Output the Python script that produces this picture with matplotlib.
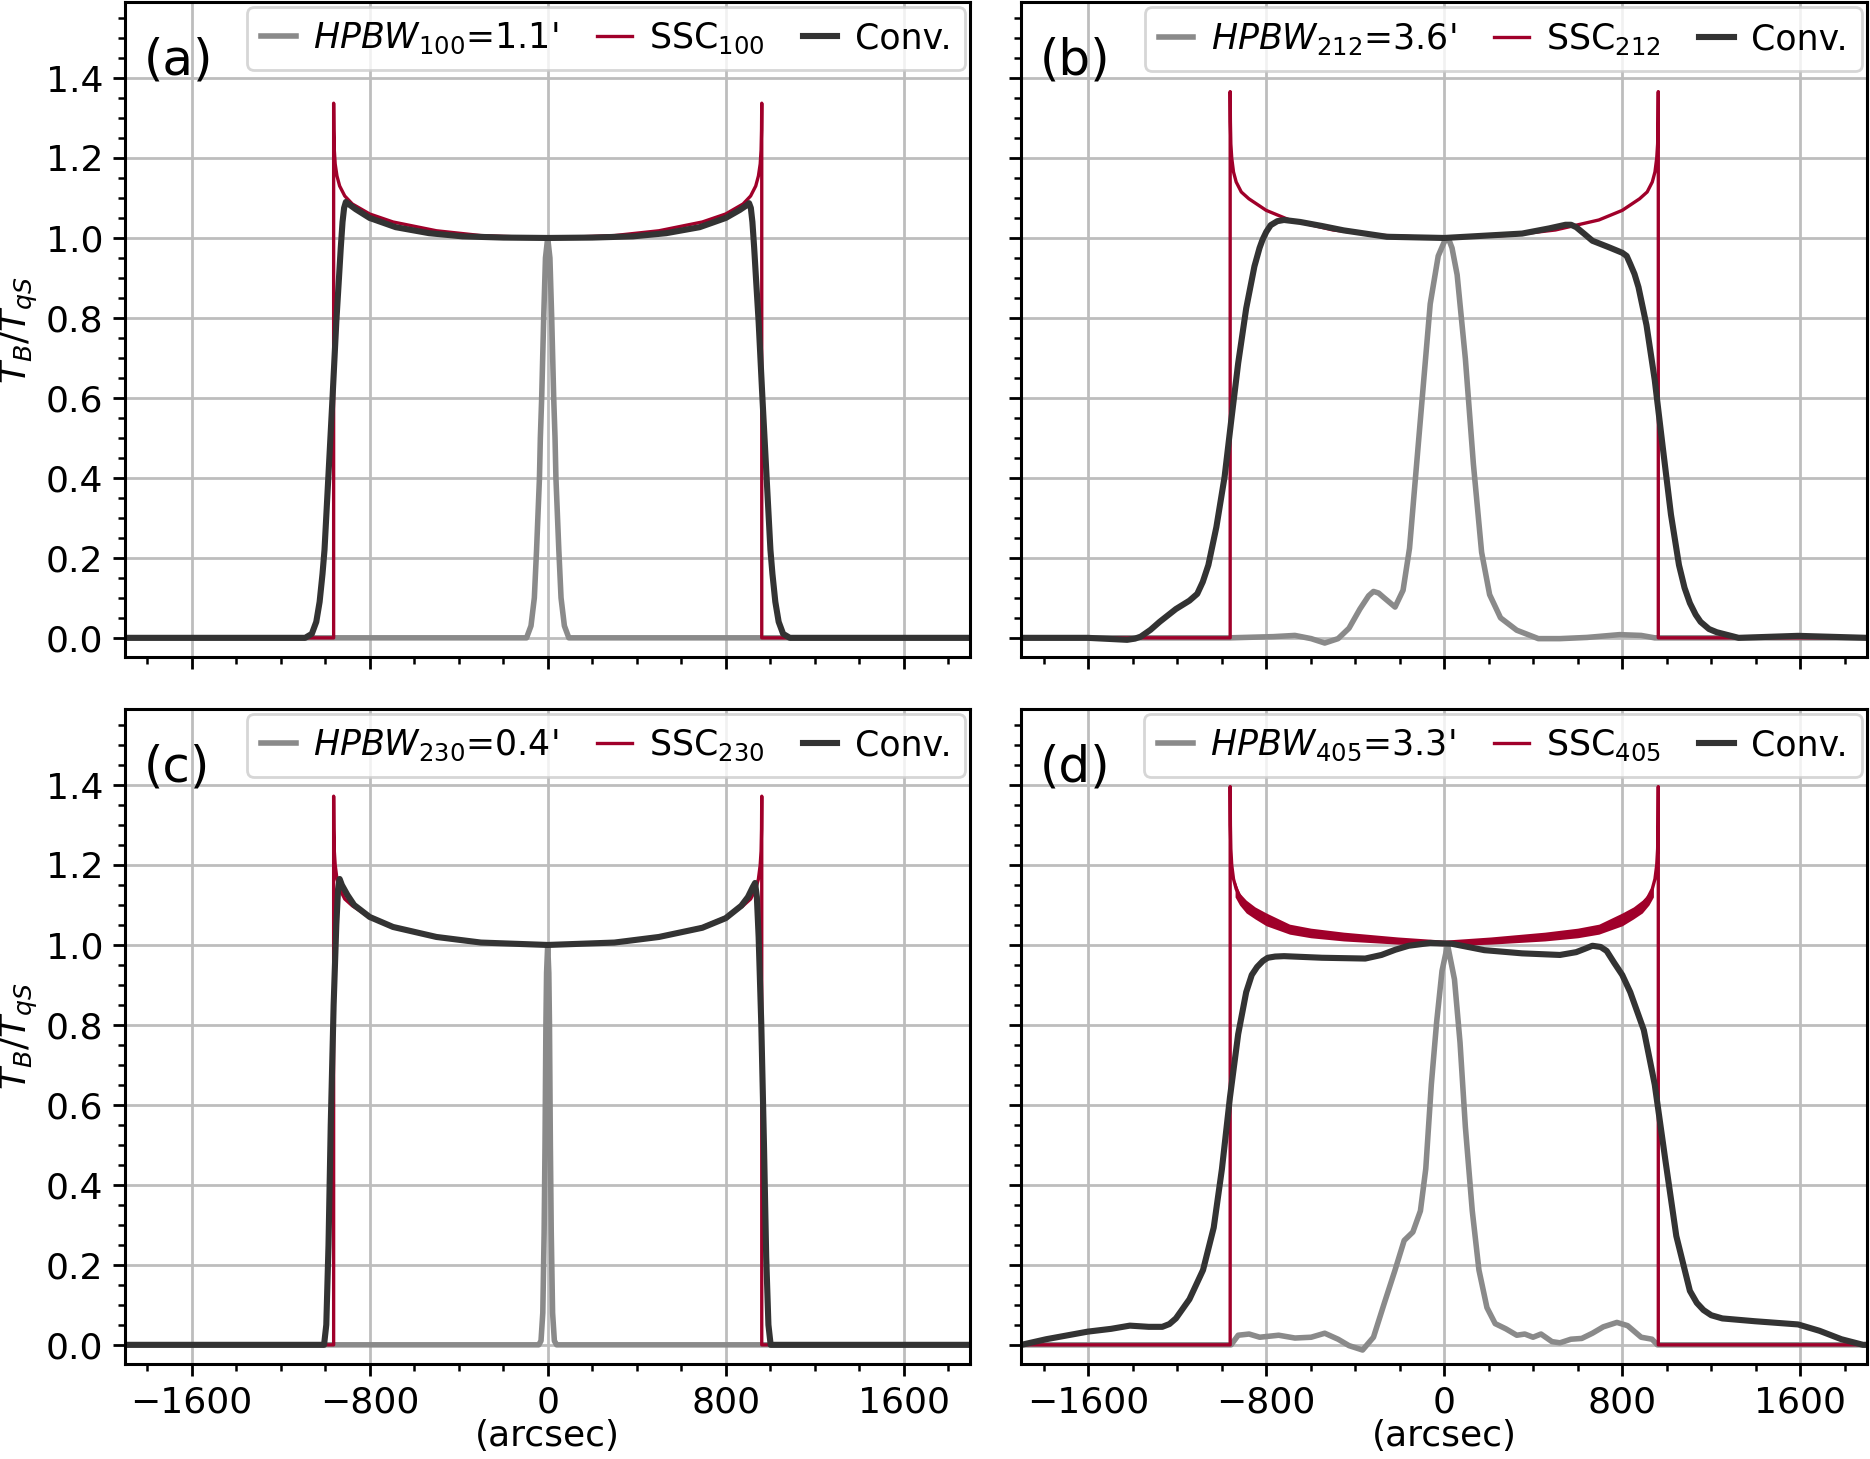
import matplotlib.pyplot as plt
from matplotlib.ticker import MultipleLocator

# Values.
# x in arcsec, y in T_B / T_qS

tags = ['(a)', '(b)', '(c)', '(d)']
freqs = ['100', '212', '230', '405']
hpbw = ["1.1'", "3.6'", "0.4'", "3.3'"]

# Solar disk profiles (SSC), sampled on a shared x grid
ssc_x = [-1900, -962, -962, -961, -959, -955, -947, -935, -912, -878, -800, -695, -500, -300, 0,
         300, 500, 695, 800, 878, 912, 935, 947, 955, 959, 961, 962, 962, 1900]
ssc_a = [0, 0, 1.337, 1.27, 1.22, 1.185, 1.155, 1.13, 1.105, 1.085, 1.06, 1.04, 1.018, 1.006, 1.0,
         1.006, 1.018, 1.04, 1.06, 1.085, 1.105, 1.13, 1.155, 1.185, 1.22, 1.27, 1.337, 0, 0]
ssc_b = [0, 0, 1.366, 1.29, 1.235, 1.2, 1.165, 1.14, 1.115, 1.098, 1.069, 1.045, 1.02, 1.007, 1.0,
         1.007, 1.02, 1.045, 1.069, 1.098, 1.115, 1.14, 1.165, 1.2, 1.235, 1.29, 1.366, 0, 0]
ssc_c = [0, 0, 1.372, 1.29, 1.235, 1.2, 1.165, 1.14, 1.115, 1.098, 1.069, 1.045, 1.02, 1.007, 1.0,
         1.007, 1.02, 1.045, 1.069, 1.098, 1.115, 1.14, 1.165, 1.2, 1.235, 1.29, 1.372, 0, 0]
ssc_d = [0, 0, 1.396, 1.30, 1.24, 1.2, 1.165, 1.14, 1.115, 1.095, 1.063, 1.037, 1.02, 1.01, 1.004,
         1.01, 1.02, 1.037, 1.063, 1.095, 1.115, 1.14, 1.165, 1.2, 1.24, 1.30, 1.396, 0, 0]

# noisy band of the 405 GHz profile (upper / lower envelope)
band_d_x = [-940, -920, -890, -850, -800, -695, -600, -452, -209, 0, 209, 452, 600, 695, 800, 850, 890, 920, 940]
band_d_hi = [1.16, 1.13, 1.112, 1.095, 1.08, 1.052, 1.042, 1.032, 1.02, 1.012, 1.02, 1.032, 1.042, 1.052,
             1.08, 1.095, 1.112, 1.13, 1.16]
band_d_lo = [1.12, 1.1, 1.08, 1.065, 1.048, 1.027, 1.018, 1.01, 1.002, 0.998, 1.002, 1.01, 1.018, 1.027,
             1.048, 1.065, 1.08, 1.1, 1.12]

# Beam profiles (HPBW)
gray_a_x = [-1900, -95, -75, -60, -50, -37, -33, -27, -18, -10, 0, 10, 18, 27, 33, 37, 50, 60, 75, 95, 1900]
gray_a_y = [0, 0, 0.03, 0.1, 0.22, 0.4, 0.5, 0.6, 0.8, 0.95, 1.0, 0.95, 0.8, 0.6, 0.5, 0.4, 0.22, 0.1, 0.03, 0, 0]

gray_b_x = [-1900, -963, -768, -671, -598, -537, -477, -428, -379, -340, -318, -295, -270, -221, -185,
            -156, -124, -92, -63, -27, 0, 18, 35, 58, 95, 131, 168, 204, 253, 326, 423, 520, 642, 788,
            885, 946, 1900]
gray_b_y = [0, 0, 0.003, 0.006, -0.002, -0.013, -0.002, 0.024, 0.072, 0.105, 0.116, 0.112, 0.1, 0.077,
            0.119, 0.224, 0.435, 0.645, 0.835, 0.955, 0.99, 1.0, 0.975, 0.908, 0.698, 0.435, 0.214, 0.108,
            0.05, 0.019, -0.002, -0.002, 0.001, 0.008, 0.006, 0.0, 0.0]

gray_c_x = [-1900, -40, -30, -22, -16, -12, -8, -5, 0, 5, 8, 12, 16, 22, 30, 40, 1900]
gray_c_y = [0, 0, 0.01, 0.08, 0.28, 0.5, 0.8, 0.93, 1.0, 0.93, 0.8, 0.5, 0.28, 0.08, 0.01, 0, 0]

gray_d_x = [-1900, -958, -926, -877, -829, -744, -671, -598, -537, -477, -428, -367, -318, -270, -221,
            -180, -141, -107, -83, -58, -34, -10, 15, 46, 71, 95, 126, 156, 192, 229, 277, 326, 362,
            399, 435, 484, 520, 569, 618, 666, 715, 776, 824, 885, 934, 958, 1900]
gray_d_y = [0, 0, 0.024, 0.027, 0.019, 0.024, 0.017, 0.019, 0.029, 0.014, -0.002, -0.013, 0.019, 0.103,
            0.187, 0.261, 0.282, 0.335, 0.44, 0.651, 0.808, 0.935, 1.0, 0.914, 0.756, 0.545, 0.335,
            0.187, 0.093, 0.053, 0.04, 0.024, 0.027, 0.019, 0.027, 0.008, 0.005, 0.014, 0.016, 0.029,
            0.045, 0.056, 0.048, 0.019, 0.014, 0.0, 0.0]

# Convolved profiles
conv_a_x = [-1900, -1090, -1060, -1040, -1025, -1012, -1003, -985, -967, -950, -938, -930, -922, -915,
            -907, -895, -863, -800, -683, -533, -383, -200, 0, 200, 383, 533, 683, 800, 863, 895, 905,
            913, 920, 928, 936, 948, 965, 983, 1001, 1010, 1023, 1038, 1058, 1088, 1900]
conv_a_y = [0, 0, 0.01, 0.04, 0.09, 0.16, 0.22, 0.41, 0.6, 0.79, 0.9, 0.975, 1.04, 1.075, 1.09, 1.085,
            1.072, 1.05, 1.027, 1.012, 1.004, 1.001, 1.0, 1.001, 1.004, 1.012, 1.027, 1.05, 1.07, 1.082,
            1.087, 1.075, 1.04, 0.975, 0.9, 0.79, 0.6, 0.41, 0.22, 0.16, 0.09, 0.04, 0.01, 0, 0]

conv_b_x = [-1900, -1602, -1425, -1390, -1364, -1320, -1279, -1206, -1145, -1110, -1085, -1060, -1024,
            -987, -958, -926, -890, -853, -830, -817, -800, -780, -750, -720, -647, -550, -452, -258, 0,
            350, 472, 545, 570, 593, 630, 666, 739, 800, 820, 836, 855, 873, 909, 946, 982, 1019, 1055,
            1080, 1104, 1130, 1152, 1190, 1225, 1323, 1590, 1900]
conv_b_y = [0, 0, -0.005, -0.002, 0.003, 0.02, 0.04, 0.072, 0.093, 0.11, 0.14, 0.182, 0.277,
            0.403, 0.54, 0.687, 0.824, 0.929, 0.975, 0.995, 1.015, 1.032, 1.042, 1.045, 1.04, 1.03, 1.019,
            1.003, 1.0, 1.011, 1.024, 1.033, 1.033, 1.027, 1.01, 0.993, 0.977, 0.963, 0.955, 0.935, 0.91,
            0.877, 0.782, 0.645, 0.477, 0.308, 0.182, 0.125, 0.087, 0.058, 0.04, 0.022, 0.014, 0.0,
            0.005, 0.0]

conv_c_x = [-1900, -1005, -995, -985, -975, -962, -950, -942, -935, -925, -900, -870, -800, -695, -500,
            -300, 0, 300, 500, 695, 800, 870, 900, 922, 932, 940, 948, 960, 972, 982, 992, 1002, 1900]
conv_c_y = [0, 0, 0.05, 0.25, 0.55, 0.85, 1.05, 1.14, 1.165, 1.15, 1.125, 1.1, 1.07, 1.045, 1.02,
            1.006, 1.0, 1.006, 1.02, 1.043, 1.067, 1.098, 1.12, 1.145, 1.155, 1.12, 1.02, 0.8, 0.5,
            0.22, 0.05, 0, 0]

conv_d_x = [-1900, -1789, -1602, -1497, -1413, -1328, -1267, -1235, -1206, -1145, -1084, -1036, -999,
            -963, -926, -890, -865, -841, -815, -793, -760, -720, -549, -355, -282, -220, -160, -63,
            34, 180, 350, 520, 593, 630, 666, 703, 730, 763, 800, 836, 897, 946, 994, 1043, 1104, 1135,
            1165, 1200, 1250, 1396, 1493, 1590, 1687, 1785, 1882, 1900]
conv_d_y = [0, 0.014, 0.033, 0.04, 0.048, 0.045, 0.045, 0.052, 0.066, 0.114, 0.187, 0.293, 0.44,
            0.619, 0.777, 0.882, 0.925, 0.945, 0.96, 0.968, 0.971, 0.972, 0.968, 0.966, 0.975, 0.988,
            0.998, 1.005, 1.003, 0.987, 0.979, 0.975, 0.982, 0.99, 0.998, 0.995, 0.985, 0.956, 0.925,
            0.882, 0.787, 0.651, 0.461, 0.272, 0.135, 0.105, 0.087, 0.074, 0.066, 0.059, 0.055, 0.051,
            0.035, 0.014, 0.0, 0.0]

gray_xs = [gray_a_x, gray_b_x, gray_c_x, gray_d_x]
gray_ys = [gray_a_y, gray_b_y, gray_c_y, gray_d_y]
ssc_ys = [ssc_a, ssc_b, ssc_c, ssc_d]
conv_xs = [conv_a_x, conv_b_x, conv_c_x, conv_d_x]
conv_ys = [conv_a_y, conv_b_y, conv_c_y, conv_d_y]

c_gray = '#8a8a8a'
c_ssc = '#a0002a'
c_conv = '#333333'

plt.rcParams['font.family'] = 'DejaVu Sans'
plt.rcParams['font.size'] = 13
plt.rcParams['axes.linewidth'] = 1.1

fig, axes = plt.subplots(2, 2, figsize=(9.35, 7.295), dpi=200, sharex=True, sharey=True)
fig.subplots_adjust(left=0.0668, right=0.9984, top=0.9986, bottom=0.0651, wspace=0.0603, hspace=0.0794)

for i, ax in enumerate(axes.flat):
    ax.plot(gray_xs[i], gray_ys[i], color=c_gray, lw=2.0,
            label=r'$HPBW_{%s}$=%s' % (freqs[i], hpbw[i]))
    ax.plot(ssc_x, ssc_ys[i], color=c_ssc, lw=1.2, label=r'SSC$_{%s}$' % freqs[i])
    if i == 3:
        ax.fill_between(band_d_x, band_d_lo, band_d_hi, color=c_ssc, lw=0)
    ax.plot(conv_xs[i], conv_ys[i], color=c_conv, lw=2.2, label='Conv.')

    ax.text(0.022, 0.91, tags[i], transform=ax.transAxes, fontsize=18, va='center', ha='left')

    ax.set_xlim(-1900, 1900)
    ax.set_ylim(-0.048, 1.59)
    ax.xaxis.set_major_locator(MultipleLocator(800))
    ax.xaxis.set_minor_locator(MultipleLocator(200))
    ax.yaxis.set_major_locator(MultipleLocator(0.2))
    ax.yaxis.set_minor_locator(MultipleLocator(0.05))
    ax.tick_params(which='major', length=4.2, width=1.0, labelsize=13)
    ax.tick_params(which='minor', length=2.5, width=0.9)
    ax.grid(True, which='major', color='#bdbdbd', lw=1.0)
    ax.set_axisbelow(True)

    ax.legend(loc='upper right', ncol=3, fontsize=12.5, handlelength=1.0, handletextpad=0.5,
              columnspacing=1.1, borderaxespad=0.15, framealpha=0.8)

    if i % 2 == 0:
        ax.set_ylabel(r'$T_B/T_{qS}$', fontsize=13, labelpad=2)
    if i >= 2:
        ax.set_xlabel('(arcsec)', fontsize=13, labelpad=0)

fig.savefig('out.png', dpi=200)
